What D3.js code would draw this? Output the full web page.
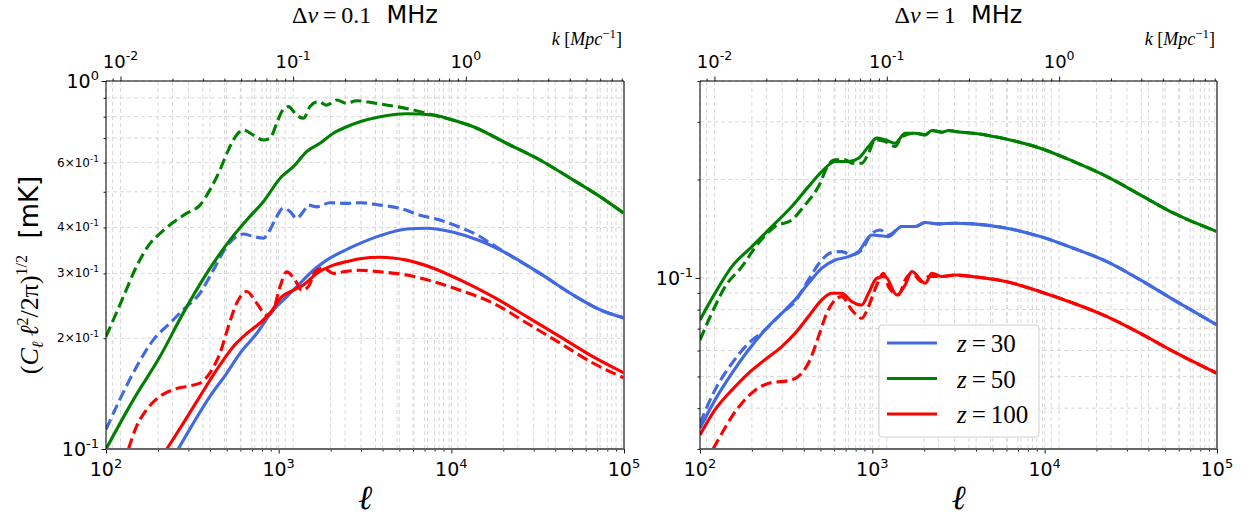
<!DOCTYPE html>
<html>
<head>
<meta charset="utf-8">
<script src="https://cdnjs.cloudflare.com/ajax/libs/d3/7.8.5/d3.min.js"></script>
<style>
  body { margin: 0; background: #fff; }
  svg { display: block; }
  .grid line { stroke: #d8d8d8; stroke-width: 1; stroke-dasharray: 4,3; }
  .serif { font-family: "Liberation Serif", "DejaVu Serif", serif; }
  .sans { font-family: "DejaVu Sans", sans-serif; }
</style>
</head>
<body>
<div id="chart"></div>
<script>
// ---- data: [ell, (C_l l^2/2pi)^1/2 in mK] ----
// left panel, dnu = 0.1 MHz
const left_z30_solid = [[262,0.100],[320,0.1174],[400,0.139],[500,0.1606],[597,0.182],[746,0.206],[931,0.239],[1112,0.259],[1329,0.282],[1588,0.306],[1897,0.326],[2369,0.345],[2958,0.362],[3863,0.380],[5511,0.396],[7196,0.398],[10270,0.388],[14660,0.368],[20920,0.340],[32620,0.300],[50880,0.262],[72610,0.239],[100000,0.227]];
const left_z30_dash = [[100,0.113],[120,0.136],[150,0.167],[188,0.198],[235,0.220],[280,0.239],[350,0.265],[418,0.306],[500,0.355],[571,0.378],[624,0.384],[713,0.378],[815,0.374],[891,0.394],[974,0.428],[1064,0.451],[1163,0.442],[1271,0.423],[1390,0.442],[1485,0.460],[1660,0.455],[1983,0.467],[2476,0.465],[2958,0.467],[3863,0.460],[5043,0.451],[6584,0.432],[8601,0.419],[11230,0.400],[14660,0.378],[16020,0.368],[20920,0.340],[32620,0.300],[50880,0.262],[72610,0.239],[100000,0.227]];
const left_z50_solid = [[100,0.100],[144,0.136],[205,0.178],[280,0.234],[383,0.300],[523,0.370],[653,0.419],[815,0.470],[1041,0.550],[1216,0.585],[1453,0.643],[1735,0.677],[2073,0.721],[2476,0.751],[2958,0.775],[3863,0.800],[5511,0.815],[7868,0.808],[9824,0.787],[13410,0.751],[20920,0.677],[32620,0.610],[50880,0.538],[72610,0.485],[100000,0.437]];
const left_z50_dash = [[100,0.202],[126,0.259],[150,0.313],[180,0.362],[205,0.385],[240,0.410],[293,0.437],[350,0.460],[400,0.506],[457,0.573],[511,0.649],[571,0.713],[624,0.736],[713,0.713],[815,0.691],[891,0.699],[974,0.767],[1041,0.825],[1138,0.852],[1271,0.808],[1390,0.792],[1519,0.852],[1697,0.879],[1897,0.860],[2167,0.888],[2476,0.870],[2830,0.884],[3534,0.872],[4615,0.855],[6025,0.834],[7868,0.808],[9824,0.787],[13410,0.751],[20920,0.677],[32620,0.610],[50880,0.538],[72610,0.485],[100000,0.437]];
const left_z100_solid = [[225,0.100],[280,0.1174],[350,0.139],[437,0.164],[547,0.190],[653,0.206],[780,0.220],[891,0.234],[1041,0.259],[1216,0.270],[1390,0.279],[1660,0.300],[2073,0.316],[2476,0.323],[2958,0.329],[3863,0.332],[5511,0.326],[7868,0.310],[11230,0.288],[17510,0.259],[27310,0.229],[42590,0.202],[66430,0.178],[100000,0.161]];
const left_z100_dash = [[135,0.100],[150,0.115],[172,0.128],[205,0.139],[245,0.145],[293,0.148],[350,0.151],[400,0.161],[457,0.182],[511,0.215],[571,0.249],[653,0.268],[746,0.249],[852,0.231],[931,0.239],[1018,0.276],[1112,0.303],[1243,0.288],[1359,0.270],[1485,0.276],[1623,0.303],[1814,0.310],[2073,0.300],[2369,0.303],[2958,0.306],[3863,0.303],[5511,0.297],[7868,0.285],[11230,0.270],[17510,0.249],[27310,0.220],[42590,0.194],[66430,0.171],[100000,0.156]];

// right panel, dnu = 1 MHz
const right_z30_solid = [[100,0.0347],[122,0.0423],[153,0.0511],[191,0.0602],[238,0.0693],[298,0.078],[356,0.0857],[426,0.0963],[509,0.1071],[608,0.1135],[727,0.1162],[831,0.1204],[993,0.1353],[1241,0.1338],[1483,0.1436],[1773,0.1436],[2026,0.1477],[2421,0.1463],[3026,0.147],[3867,0.1463],[6037,0.1419],[9430,0.1338],[14720,0.1232],[22990,0.1122],[35920,0.0986],[56090,0.0857],[100000,0.0718]];
const right_z30_dash = [[100,0.0359],[122,0.0454],[153,0.0548],[191,0.0631],[238,0.0693],[298,0.078],[356,0.0847],[426,0.0986],[509,0.1135],[582,0.1196],[665,0.1204],[760,0.1176],[869,0.1218],[993,0.1369],[1110,0.1402],[1241,0.1353],[1483,0.1436],[1773,0.1436],[2026,0.1477],[2421,0.1463],[3026,0.147],[3867,0.1463],[6037,0.1419],[9430,0.1338],[14720,0.1232],[22990,0.1122],[35920,0.0986],[56090,0.0857],[100000,0.0718]];
const right_z50_solid = [[100,0.0744],[122,0.0897],[153,0.1083],[200,0.1247],[261,0.1436],[341,0.1653],[426,0.1902],[509,0.2114],[608,0.2269],[727,0.2269],[831,0.2323],[950,0.2522],[1061,0.2675],[1187,0.2643],[1356,0.2582],[1550,0.2770],[1773,0.2770],[2026,0.2738],[2215,0.2823],[2532,0.2790],[2768,0.2823],[3026,0.2803],[3867,0.277],[6037,0.2655],[9430,0.2492],[14720,0.2269],[22990,0.2042],[35920,0.1794],[56090,0.1577],[100000,0.1386]];
const right_z50_dash = [[100,0.0646],[117,0.078],[140,0.0941],[175,0.1083],[218,0.1277],[273,0.1436],[341,0.1504],[407,0.1672],[487,0.1902],[556,0.2216],[608,0.2296],[695,0.2296],[760,0.2243],[869,0.2243],[950,0.2405],[1038,0.2643],[1187,0.2612],[1356,0.2522],[1483,0.2705],[1773,0.2770],[2026,0.2738],[2215,0.2823],[2532,0.2790],[2768,0.2823],[3026,0.2803],[3867,0.277],[6037,0.2655],[9430,0.2492],[14720,0.2269],[22990,0.2042],[35920,0.1794],[56090,0.1577],[100000,0.1386]];
const right_z100_solid = [[100,0.0331],[122,0.0395],[153,0.0454],[191,0.0511],[238,0.0562],[298,0.0617],[356,0.0677],[426,0.0762],[509,0.0857],[582,0.0898],[665,0.0898],[760,0.0847],[869,0.0827],[950,0.0898],[1061,0.0998],[1187,0.101],[1387,0.0887],[1550,0.0952],[1695,0.1046],[2026,0.0963],[2215,0.1034],[2532,0.101],[3026,0.1021],[3867,0.1009],[6037,0.0974],[9430,0.0908],[14720,0.0837],[22990,0.0762],[35920,0.0677],[56090,0.0595],[100000,0.0511]];
const right_z100_dash = [[119,0.030],[134,0.0335],[153,0.0377],[175,0.0414],[209,0.0454],[249,0.0476],[341,0.0488],[389,0.0511],[435,0.0562],[487,0.0662],[544,0.078],[608,0.0857],[665,0.0877],[760,0.0798],[869,0.0753],[950,0.0818],[1061,0.0952],[1161,0.1034],[1241,0.0941],[1418,0.0887],[1550,0.0986],[1695,0.1034],[1938,0.0974],[2118,0.101],[2532,0.101],[3026,0.1021],[3867,0.1009],[6037,0.0974],[9430,0.0908],[14720,0.0837],[22990,0.0762],[35920,0.0677],[56090,0.0595],[100000,0.0511]];

// axes / ticks
const ellDomain = [100, 100000];
const ellMajor = [100, 1000, 10000, 100000];
const ellMajorExp = ['2', '3', '4', '5'];
const ELL_PER_K = 12130;          // ell at k = 1 Mpc^-1
const kMajor = [0.01, 0.1, 1];
const kMajorExp = ['-2', '-1', '0'];
const leftYDomain = [0.1, 1];
const leftYTicks = [1, 0.6, 0.4, 0.3, 0.2, 0.1];
const leftYTickText = [['10', '0'], ['6\u00d710', '-1'], ['4\u00d710', '-1'], ['3\u00d710', '-1'], ['2\u00d710', '-1'], ['10', '-1']];
const rightYDomain = [0.03, 0.4];
const rightYTicks = [0.1];
const rightYTickText = [['10', '-1']];
const zLabels = ['30', '50', '100'];
const zColors = ['#4169e1', '#008000', '#ff0000'];

var svg = d3.select('#chart').append('svg')
  .attr('width', 1250)
  .attr('height', 519);

// minor ticks for a log scale: 2..9 x 10^n inside the domain
function minorTicks(domain) {
  var out = [];
  var lo = Math.floor(Math.log10(domain[0])), hi = Math.ceil(Math.log10(domain[1]));
  for (var n = lo; n <= hi; n++) {
    for (var m = 2; m <= 9; m++) {
      var v = m * Math.pow(10, n);
      if (v >= domain[0] * 0.9999 && v <= domain[1] * 1.0001) out.push(v);
    }
  }
  return out;
}

function supText(sel, base, exp, fs, sfs) {
  sel.append('tspan').text(base).style('font-size', fs + 'px');
  sel.append('tspan').text(exp).attr('dy', -fs * 0.42).style('font-size', sfs + 'px');
}

function drawPanel(p) {
  var w = p.width, h = p.height;
  var x = d3.scaleLog().domain(ellDomain).range([0, w]);
  var y = d3.scaleLog().domain(p.yDomain).range([h, 0]);
  var k = d3.scaleLog().domain([ellDomain[0] / ELL_PER_K, ellDomain[1] / ELL_PER_K]).range([0, w]);

  var g = svg.append('g').attr('transform', 'translate(' + p.left + ',' + p.top + ')');

  // grid, both ell and k ticks
  var grid = g.append('g').attr('class', 'grid');
  var vx = ellMajor.concat(minorTicks(ellDomain)).map(x)
    .concat(kMajor.concat(minorTicks(k.domain())).map(k));
  grid.selectAll('line.v').data(vx).enter().append('line')
    .attr('x1', d => d).attr('x2', d => d).attr('y1', 0).attr('y2', h);
  var hy = p.yMajor.concat(minorTicks(p.yDomain));
  grid.selectAll('line.h').data(hy).enter().append('line')
    .attr('x1', 0).attr('x2', w).attr('y1', d => y(d)).attr('y2', d => y(d));

  // curves
  g.append('clipPath').attr('id', 'clip' + p.id)
    .append('rect').attr('width', w).attr('height', h);
  var line = d3.line()
    .x(d => x(d[0]))
    .y(d => y(d[1]))
    .curve(d3.curveMonotoneX);
  var curves = g.append('g').attr('clip-path', 'url(#clip' + p.id + ')');
  p.series.forEach(function (s) {
    curves.append('path')
      .datum(s.data)
      .attr('d', line)
      .attr('fill', 'none')
      .attr('stroke', s.color)
      .attr('stroke-width', 3.1)
      .attr('stroke-linejoin', 'round')
      .attr('stroke-dasharray', s.dash ? '11,5' : null);
  });

  // ticks
  function ticks(axis, sel) {
    sel.call(axis);
    sel.select('.domain').remove();
    sel.selectAll('.tick line').attr('stroke', '#000').attr('stroke-width', 0.9);
    sel.selectAll('.tick text').remove();
  }
  ticks(d3.axisBottom(x).tickValues(ellMajor).tickSize(4.5), g.append('g').attr('transform', 'translate(0,' + h + ')'));
  ticks(d3.axisBottom(x).tickValues(minorTicks(ellDomain)).tickSize(2.5), g.append('g').attr('transform', 'translate(0,' + h + ')'));
  ticks(d3.axisTop(k).tickValues(kMajor).tickSize(4.5), g.append('g'));
  ticks(d3.axisTop(k).tickValues(minorTicks(k.domain())).tickSize(2.5), g.append('g'));
  ticks(d3.axisLeft(y).tickValues(p.yMajor).tickSize(4.5), g.append('g'));
  ticks(d3.axisLeft(y).tickValues(minorTicks(p.yDomain)).tickSize(2.5), g.append('g'));

  // spines
  g.append('line').attr('x1', 0).attr('x2', w).attr('y1', h).attr('y2', h).attr('stroke', '#666').attr('stroke-width', 1.8);
  g.append('line').attr('x1', w).attr('x2', w).attr('y1', 0).attr('y2', h).attr('stroke', '#666').attr('stroke-width', 1.8);
  g.append('line').attr('x1', 0).attr('x2', w).attr('y1', 0).attr('y2', 0).attr('stroke', '#000').attr('stroke-width', 1);
  g.append('line').attr('x1', 0).attr('x2', 0).attr('y1', 0).attr('y2', h).attr('stroke', '#000').attr('stroke-width', 1);

  // tick labels
  ellMajor.forEach(function (v, i) {
    var t = g.append('text').attr('class', 'sans').attr('x', x(v)).attr('y', h + 27)
      .attr('text-anchor', 'middle');
    supText(t, '10', ellMajorExp[i], 19, 13);
  });
  kMajor.forEach(function (v, i) {
    var t = g.append('text').attr('class', 'sans').attr('x', k(v)).attr('y', -13)
      .attr('text-anchor', 'middle');
    supText(t, '10', kMajorExp[i], 18, 12.5);
  });
  p.yTicks.forEach(function (v, i) {
    var big = p.yTickText[i][0] === '10';
    var t = g.append('text').attr('class', 'sans').attr('x', -7).attr('y', y(v) + (big ? 7 : 4))
      .attr('text-anchor', 'end');
    if (big) supText(t, '10', p.yTickText[i][1], 19, 13);
    else supText(t, p.yTickText[i][0], p.yTickText[i][1], 12, 9);
  });

  // k axis label
  var kl = g.append('text').attr('class', 'serif').attr('x', w - 2).attr('y', -36)
    .attr('text-anchor', 'end').style('font-size', '18px');
  kl.append('tspan').text('k').style('font-style', 'italic');
  kl.append('tspan').text(' [');
  kl.append('tspan').text('Mpc').style('font-style', 'italic');
  kl.append('tspan').text('\u22121').attr('dy', -7).style('font-size', '13px');
  kl.append('tspan').text(']').attr('dy', 7);

  // title
  var tt = g.append('text').attr('x', w / 2).attr('y', -58).attr('text-anchor', 'middle')
    .style('font-size', '24px');
  tt.append('tspan').attr('class', 'serif').text('\u0394');
  tt.append('tspan').attr('class', 'serif').text('\u03bd').style('font-style', 'italic');
  tt.append('tspan').attr('class', 'serif').text('\u2009=\u2009' + p.dnu);
  tt.append('tspan').attr('class', 'sans').text('\u00a0\u00a0MHz');

  // x label
  g.append('text').attr('class', 'serif').attr('x', w / 2).attr('y', h + 60)
    .attr('text-anchor', 'middle').style('font-size', '34px').style('font-style', 'italic')
    .text('\u2113');

  // legend
  if (p.legend) {
    var lg = g.append('g').attr('transform', 'translate(' + p.legend[0] + ',' + p.legend[1] + ')');
    lg.append('rect').attr('width', 160).attr('height', 112).attr('rx', 3)
      .attr('fill', 'rgba(255,255,255,0.85)').attr('stroke', '#d0d0d0');
    zLabels.forEach(function (z, i) {
      var yy = 18 + i * 35.5;
      lg.append('line').attr('x1', 8).attr('x2', 58).attr('y1', yy).attr('y2', yy)
        .attr('stroke', zColors[i]).attr('stroke-width', 3);
      var t = lg.append('text').attr('class', 'serif').attr('x', 78).attr('y', yy + 9)
        .style('font-size', '25px');
      t.append('tspan').text('z').style('font-style', 'italic');
      t.append('tspan').text('\u2009=\u2009' + z);
    });
  }
}

function seriesOf(list) {
  var out = [];
  list.forEach(function (pair, i) {
    out.push({ data: pair[0], color: zColors[i], dash: false });
    out.push({ data: pair[1], color: zColors[i], dash: true });
  });
  return out;
}

drawPanel({
  id: 'L', left: 106, top: 81, width: 518, height: 368,
  yDomain: leftYDomain, yMajor: [0.1, 1], yTicks: leftYTicks, yTickText: leftYTickText,
  dnu: '0.1',
  series: seriesOf([[left_z30_solid, left_z30_dash], [left_z50_solid, left_z50_dash], [left_z100_solid, left_z100_dash]])
});
drawPanel({
  id: 'R', left: 700, top: 81, width: 517, height: 368,
  yDomain: rightYDomain, yMajor: [0.1], yTicks: rightYTicks, yTickText: rightYTickText,
  dnu: '1',
  legend: [179, 244],
  series: seriesOf([[right_z30_solid, right_z30_dash], [right_z50_solid, right_z50_dash], [right_z100_solid, right_z100_dash]])
});

// y axis label
var yl = svg.append('text')
  .attr('transform', 'translate(38,275) rotate(-90)')
  .attr('text-anchor', 'middle')
  .style('font-size', '26px');
yl.append('tspan').attr('class', 'serif').text('(');
yl.append('tspan').attr('class', 'serif').text('C').style('font-style', 'italic');
yl.append('tspan').attr('class', 'serif').text('\u2113').attr('dy', 5).style('font-size', '16px').style('font-style', 'italic');
yl.append('tspan').attr('class', 'serif').text('\u2009\u2113').attr('dy', -5).style('font-style', 'italic');
yl.append('tspan').attr('class', 'serif').text('2').attr('dy', -10).style('font-size', '16px');
yl.append('tspan').attr('class', 'serif').text('/2\u03c0)').attr('dy', 10);
yl.append('tspan').attr('class', 'serif').text('1/2').attr('dy', -11).style('font-size', '16px');
yl.append('tspan').attr('class', 'sans').text('\u00a0\u00a0[mK]').attr('dy', 11);
</script>
</body>
</html>
